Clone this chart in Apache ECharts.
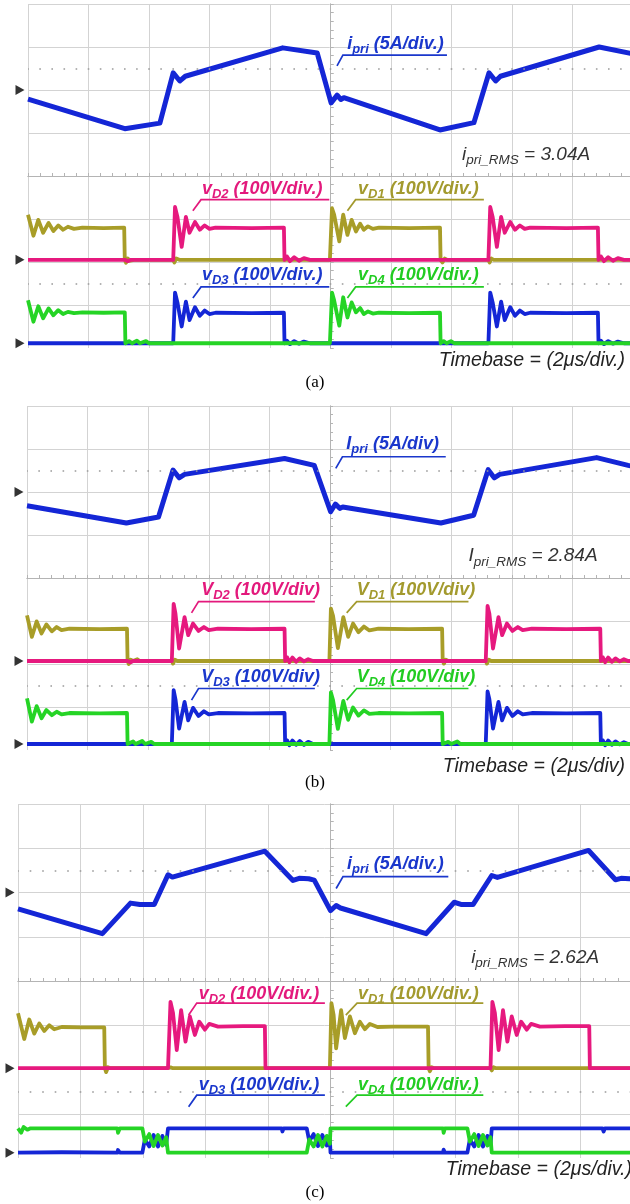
<!DOCTYPE html>
<html>
<head>
<meta charset="utf-8">
<script src="https://cdn.jsdelivr.net/npm/echarts@6/dist/echarts.min.js"></script>
<style>
  html, body { margin: 0; padding: 0; background: #fff; }
  #scope { width: 630px; height: 1204px; }
</style>
</head>
<body>
<div id="scope"></div>
<script>
// Vertical scales of the probes
const SCALE_I = 5;    // A/div
const SCALE_V = 100;  // V/div

// Channel reference levels (div): [i_pri, vD1/vD2, vD3/vD4]
const REF_A = [2.0, -1.95, -3.89];
const REF_B = [2.0, -1.93, -3.86];
const REF_C = [2.0, -1.97, -3.88];

// ---------- (a) ----------  time in µs from trigger, current in A, voltage in V
const A_IPRI = [[-10,-1.05],[-6.8,-4.5],[-5.64,-3.85],[-5.2,2.0],[-4.98,1.05],[-4.8,1.6],[-1.58,4.9],[-0.44,4.3],
  [0.02,-1.5],[0.22,-0.6],[0.34,-1.1],[0.44,-0.9],[3.62,-4.65],[4.74,-3.8],[5.24,2.0],[5.46,1.05],[5.62,1.6],[8.88,5.0],[10,4.2]];
const A_VD1 = [[-10,105],[-9.82,56],[-9.66,93],[-9.5,63],[-9.32,86],[-9.16,67],[-9.0,80],[-8.84,70],[-8.68,77],[-8.48,72],[-8.2,75],
  [-7.5,74],[-6.82,75],[-6.8,0],[-6.76,-7],[-6.7,3],[-6.62,-2],[-6.5,0],[-5.2,0],[-5.16,-6],[-5.1,3],[-5.0,0],
  [-0.02,0],[0.05,120],[0.12,105],[0.29,43],[0.42,105],[0.56,58],[0.70,93],[0.84,66],[0.98,84],[1.10,70],[1.24,78],[1.4,72],[1.6,75],
  [2.6,74],[3.62,75],[3.64,0],[3.7,-6],[3.78,3],[3.86,0],[5.22,0],[5.26,-6],[5.32,3],[5.4,0],[10,0]];
const A_VD2 = [[-10,0],[-6.8,0],[-6.76,4],[-6.7,-3],[-6.6,0],[-5.2,0],[-5.14,123],[-5.06,100],[-4.92,30],[-4.78,100],[-4.66,63],
  [-4.48,88],[-4.32,70],[-4.16,80],[-4.0,72],[-3.8,75],[-2.6,74],[-1.54,75],[-1.52,0],[-1.44,8],[-1.34,-3],[-1.2,6],[-1.04,-2],
  [-0.88,4],[-0.68,0],[5.22,0],[5.28,123],[5.36,100],[5.5,30],[5.64,100],[5.76,63],[5.94,88],[6.1,70],[6.26,80],[6.42,72],[6.6,75],
  [7.8,74],[8.84,75],[8.86,0],[8.94,8],[9.04,-3],[9.18,6],[9.34,-2],[9.5,4],[9.7,0],[10,0]];
const A_VD3 = [[-10,0],[-5.2,0],[-5.14,118],[-5.06,95],[-4.92,39],[-4.78,97],[-4.66,54],[-4.48,84],[-4.32,64],[-4.16,76],[-4.0,68],
  [-3.8,71],[-2.6,70],[-1.54,71],[-1.52,0],[-1.44,6],[-1.34,-2],[-1.2,5],[-1.04,-1],[-0.88,4],[-0.68,0],[5.22,0],[5.28,118],[5.36,95],
  [5.5,39],[5.64,97],[5.76,54],[5.94,84],[6.1,64],[6.26,76],[6.42,68],[6.6,71],[7.8,70],[8.84,71],[8.86,0],[8.94,6],[9.04,-2],[9.18,5],
  [9.34,-1],[9.5,4],[9.7,0],[10,0]];
const A_VD4 = [[-10,100],[-9.82,50],[-9.66,86],[-9.5,58],[-9.32,81],[-9.16,65],[-9.0,77],[-8.84,68],[-8.68,73],[-8.48,70],[-8.2,72],
  [-7.5,71],[-6.8,72],[-6.78,0],[-6.66,5],[-6.56,0],[-6.4,6],[-6.3,0],[-6.1,5],[-6.0,0],[-0.02,0],[0.05,118],[0.12,100],[0.29,41],
  [0.42,107],[0.56,60],[0.70,95],[0.84,72],[0.98,82],[1.10,68],[1.24,74],[1.4,69],[1.6,71],[2.6,70],[3.62,71],[3.64,0],[3.74,5],
  [3.84,0],[3.98,5],[4.1,0],[10,0]];

// ---------- (b) ----------
const B_IPRI = [[-10,-1.6],[-6.72,-3.6],[-5.66,-2.9],[-5.18,2.55],[-4.98,1.65],[-4.8,2.05],[-1.5,3.9],[-0.52,3.1],[0.02,-2.3],
  [0.18,-1.4],[0.32,-1.9],[0.42,-1.75],[3.66,-3.6],[4.74,-2.7],[5.22,2.6],[5.42,1.65],[5.6,2.05],[8.8,4.0],[9.84,3.1],[10,3.0]];
const B_VD1 = [[-10,106],[-9.84,56],[-9.68,92],[-9.52,64],[-9.36,85],[-9.18,69],[-9.02,79],[-8.86,72],[-8.6,75],[-7.6,74],[-6.7,75],
  [-6.68,0],[-6.64,-7],[-6.58,3],[-6.5,0],[-6.36,4],[-6.28,0],[-5.22,0],[-5.18,-6],[-5.12,3],[-5.04,0],[-0.02,0],[0.03,122],[0.1,105],
  [0.26,30],[0.44,102],[0.6,56],[0.76,87],[0.94,67],[1.12,80],[1.3,71],[1.6,75],[2.6,74],[3.7,75],[3.72,0],[3.76,-6],[3.82,3],[3.9,0],
  [5.14,0],[5.18,-6],[5.24,3],[5.32,0],[10,0]];
const B_VD2 = [[-10,0],[-6.68,0],[-6.64,4],[-6.58,-3],[-6.5,0],[-5.22,0],[-5.16,133],[-5.1,110],[-4.98,29],[-4.8,102],[-4.68,60],
  [-4.52,87],[-4.34,70],[-4.16,79],[-4.0,72],[-3.7,75],[-2.6,74],[-1.5,75],[-1.48,0],[-1.42,9],[-1.34,-3],[-1.24,8],[-1.12,-2],[-1.0,6],
  [-0.86,-1],[-0.72,4],[-0.56,0],[5.14,0],[5.2,128],[5.26,110],[5.38,29],[5.56,102],[5.68,60],[5.84,87],[6.02,70],[6.2,79],[6.36,72],
  [6.66,75],[7.8,74],[8.92,75],[8.94,0],[9.0,9],[9.08,-3],[9.18,8],[9.3,-2],[9.42,6],[9.56,-1],[9.7,4],[9.84,0],[10,0]];
const B_VD3 = [[-10,0],[-5.22,0],[-5.16,125],[-5.1,104],[-4.98,36],[-4.8,98],[-4.68,55],[-4.52,84],[-4.34,65],[-4.16,76],[-4.0,69],
  [-3.7,72],[-2.6,71],[-1.5,72],[-1.48,0],[-1.42,9],[-1.34,-3],[-1.24,8],[-1.12,-2],[-1.0,7],[-0.86,-2],[-0.72,5],[-0.56,0],[5.14,0],
  [5.2,122],[5.26,104],[5.38,36],[5.56,98],[5.68,55],[5.84,84],[6.02,65],[6.2,76],[6.36,69],[6.66,72],[7.8,71],[8.92,72],[8.94,0],
  [9.0,9],[9.08,-3],[9.18,8],[9.3,-2],[9.42,6],[9.56,-1],[9.7,4],[9.84,0],[10,0]];
const B_VD4 = [[-10,106],[-9.84,52],[-9.68,88],[-9.52,60],[-9.36,79],[-9.18,67],[-9.02,75],[-8.86,69],[-8.6,72],[-7.6,71],[-6.7,72],
  [-6.68,0],[-6.5,6],[-6.42,0],[-6.2,7],[-6.1,0],[-5.9,5],[-5.8,0],[-0.02,0],[0.03,120],[0.1,102],[0.26,35],[0.44,100],[0.6,56],
  [0.76,85],[0.94,66],[1.12,78],[1.3,70],[1.6,72],[2.6,71],[3.7,72],[3.72,0],[3.9,5],[4.0,0],[4.2,6],[4.3,0],[10,0]];

// ---------- (c) ----------
const C_IPRI = [[-10,-1.85],[-7.3,-4.65],[-6.4,-1.2],[-6.1,-1.36],[-5.64,-1.36],[-5.2,2.0],[-5.06,1.74],[-2.1,4.67],[-1.2,1.36],
  [-1.0,1.6],[-0.7,1.55],[-0.52,1.4],[0.0,-2.04],[0.18,-1.47],[0.32,-1.75],[3.06,-4.65],[3.96,-1.1],[4.2,-1.36],[4.56,-1.36],
  [5.16,1.92],[5.34,1.7],[8.26,4.75],[9.12,1.44],[9.3,1.6],[9.56,1.55],[10,1.5]];
const C_VD1 = [[-10,124],[-9.8,66],[-9.64,110],[-9.48,78],[-9.32,101],[-9.16,84],[-9.0,97],[-8.84,88],[-8.6,93],[-8.0,92],[-7.24,92],
  [-7.22,0],[-7.18,-9],[-7.12,2],[-7.04,0],[-5.22,0],[-5.18,-4],[-5.12,2],[-5.04,0],[-0.02,0],[0.03,147],[0.1,120],[0.18,45],
  [0.34,131],[0.46,68],[0.62,117],[0.78,79],[0.94,105],[1.1,88],[1.26,100],[1.5,93],[2.0,94],[3.12,94],[3.14,0],[3.18,-7],[3.24,2],
  [3.32,0],[5.12,0],[5.16,-5],[5.22,2],[5.3,0],[10,0]];
const C_VD2 = [[-10,0],[-7.22,0],[-7.18,3],[-7.1,0],[-5.2,0],[-5.12,150],[-5.04,125],[-4.92,41],[-4.78,131],[-4.64,60],[-4.5,117],
  [-4.34,75],[-4.2,105],[-4.02,87],[-3.88,100],[-3.6,94],[-2.8,95],[-2.1,95],[-2.08,0],[-2.02,3],[-1.94,0],[5.12,0],[5.18,150],
  [5.26,125],[5.38,41],[5.52,131],[5.66,60],[5.8,117],[5.96,75],[6.1,105],[6.28,87],[6.42,100],[6.7,94],[7.5,95],[8.28,95],[8.3,0],
  [8.36,3],[8.44,0],[10,0]];
const C_VD3 = [[-10,0],[-8.6,1],[-6.82,0],[-6.8,6],[-6.74,0],[-6.02,0],[-5.94,30],[-5.8,14],[-5.66,40],[-5.52,14],[-5.38,38],
  [-5.26,18],[-5.2,55],[-3.0,55],[-1.56,55],[-1.54,48],[-1.5,55],[-0.76,55],[-0.68,26],[-0.54,42],[-0.4,15],[-0.26,40],[-0.12,16],
  [-0.02,30],[0.0,0],[3.6,0],[3.62,7],[3.66,0],[4.38,0],[4.46,30],[4.6,14],[4.74,40],[4.88,14],[5.02,38],[5.12,18],[5.16,55],
  [8.7,55],[8.74,48],[8.78,55],[10,55]];
const C_VD4 = [[-10,55],[-9.9,45],[-9.82,58],[-9.7,52],[-9.6,55],[-6.82,55],[-6.8,45],[-6.74,55],[-6.02,55],[-5.94,25],[-5.8,42],
  [-5.66,15],[-5.52,40],[-5.38,16],[-5.26,35],[-5.2,0],[-0.76,0],[-0.68,30],[-0.54,14],[-0.4,40],[-0.26,14],[-0.12,38],[-0.02,20],
  [0.0,55],[3.6,55],[3.62,45],[3.66,55],[4.38,55],[4.46,25],[4.6,42],[4.74,15],[4.88,40],[5.02,16],[5.12,35],[5.16,0],[10,0]];

// Text shown on each screen
const CAPTIONS = ['(a)', '(b)', '(c)'];
const TIMEBASE = ['Timebase = (2\u03bcs/div.)', 'Timebase = (2\u03bcs/div)', 'Timebase = (2\u03bcs/div.)'];
const RMS_LABELS = [['i', 'pri_RMS', ' = 3.04A'], ['I', 'pri_RMS', ' = 2.84A'], ['i', 'pri_RMS', ' = 2.62A']];
const I_LABELS = [['i', 'pri', ' (5A/div.)'], ['I', 'pri', ' (5A/div)'], ['i', 'pri', ' (5A/div.)']];
const V_LABELS = [
  { D1: ['v', 'D1', ' (100V/div.)'], D2: ['v', 'D2', ' (100V/div.)'], D3: ['v', 'D3', ' (100V/div.)'], D4: ['v', 'D4', ' (100V/div.)'] },
  { D1: ['V', 'D1', ' (100V/div)'], D2: ['V', 'D2', ' (100V/div)'], D3: ['V', 'D3', ' (100V/div)'], D4: ['V', 'D4', ' (100V/div)'] },
  { D1: ['v', 'D1', ' (100V/div.)'], D2: ['v', 'D2', ' (100V/div.)'], D3: ['v', 'D3', ' (100V/div.)'], D4: ['v', 'D4', ' (100V/div.)'] }
];

// ---------- styling ----------
const COL = { ipri: '#1426d6', d1: '#a89d28', d2: '#e6197e', d3: '#1426d6', d4: '#25d425' };
const LABEL_COL = { ipri: '#1a37cc', d1: '#a39a2e', d2: '#e3197c', d3: '#1a37cc', d4: '#22cc22' };
const GRID_C = '#d3d3d3';
const AXIS_C = '#b4b4b4';
const FONT = '"Liberation Sans", Arial, Helvetica, sans-serif';

const PANELS = [
  { box: { left: 28, top: 4, width: 605, height: 344 }, ref: REF_A, ipri: A_IPRI, d1: A_VD1, d2: A_VD2, d3: A_VD3, d4: A_VD4,
    capY: 383, tbY: 361, tbX: 625,
    iLab: { t: [0.55, 3.07], line: [[0.215, 2.56], [0.41, 2.81], [3.85, 2.81]] }, rms: [4.35, 0.49],
    vLab: { D2: { t: [-4.25, -0.30], line: [[-4.55, -0.81], [-4.28, -0.55], [-0.04, -0.55]] },
            D1: { t: [0.91, -0.30], line: [[0.56, -0.81], [0.83, -0.55], [5.07, -0.55]] },
            D3: { t: [-4.25, -2.30], line: [[-4.55, -2.84], [-4.28, -2.58], [-0.04, -2.58]] },
            D4: { t: [0.91, -2.30], line: [[0.56, -2.84], [0.83, -2.58], [5.07, -2.58]] } } },
  { box: { left: 27, top: 406, width: 606, height: 344 }, ref: REF_B, ipri: B_IPRI, d1: B_VD1, d2: B_VD2, d3: B_VD3, d4: B_VD4,
    capY: 783, tbY: 767, tbX: 625,
    iLab: { t: [0.54, 3.12], line: [[0.19, 2.55], [0.41, 2.82], [3.82, 2.82]] }, rms: [4.57, 0.51],
    vLab: { D2: { t: [-4.25, -0.28], line: [[-4.57, -0.81], [-4.34, -0.55], [-0.50, -0.55]] },
            D1: { t: [0.88, -0.28], line: [[0.55, -0.81], [0.88, -0.55], [4.57, -0.55]] },
            D3: { t: [-4.25, -2.30], line: [[-4.57, -2.84], [-4.34, -2.57], [-0.50, -2.57]] },
            D4: { t: [0.88, -2.30], line: [[0.55, -2.84], [0.88, -2.57], [4.57, -2.57]] } } },
  { box: { left: 18, top: 804, width: 625, height: 354 }, ref: REF_C, ipri: C_IPRI, d1: C_VD1, d2: C_VD2, d3: C_VD3, d4: C_VD4,
    capY: 1193, tbY: 1170, tbX: 632,
    iLab: { t: [0.53, 2.64], line: [[0.18, 2.09], [0.40, 2.36], [3.77, 2.36]] }, rms: [4.50, 0.52],
    vLab: { D2: { t: [-4.22, -0.29], line: [[-4.54, -0.77], [-4.28, -0.50], [-0.18, -0.50]] },
            D1: { t: [0.88, -0.29], line: [[0.49, -0.77], [0.85, -0.50], [4.89, -0.50]] },
            D3: { t: [-4.22, -2.35], line: [[-4.54, -2.84], [-4.28, -2.58], [-0.18, -2.58]] },
            D4: { t: [0.88, -2.35], line: [[0.49, -2.84], [0.85, -2.58], [4.89, -2.58]] } } }
];

const chart = echarts.init(document.getElementById('scope'), null, { renderer: 'canvas', width: 630, height: 1204 });

const grids = [], xAxes = [], yAxes = [], series = [];
const X_SPLIT = new Array(11).fill(GRID_C);
const Y_SPLIT = ['rgba(0,0,0,0)'].concat(new Array(8).fill(GRID_C));

PANELS.forEach((p, g) => {
  // the screen runs past the right edge of the page, so keep the box as given
  grids.push(Object.assign({ show: false, containLabel: false, outerBoundsMode: 'none' }, p.box));
  const sub = p.box.width / 50; // pixel size of a 0.2 div subdivision
  [true, false].forEach((inside, k) => {
    xAxes.push({
      gridIndex: g, type: 'value', min: -10, max: 10, interval: 2,
      axisLine: { show: true, onZero: true, lineStyle: { color: AXIS_C, width: 1 } },
      axisTick: { show: true, inside: inside, length: 3, lineStyle: { color: AXIS_C } },
      minorTick: { show: true, splitNumber: 5, length: 3, lineStyle: { color: AXIS_C } },
      axisLabel: { show: false },
      splitLine: { show: k === 0, lineStyle: { color: X_SPLIT, width: 1 } }
    });
    yAxes.push({
      gridIndex: g, type: 'value', min: -4, max: 4, interval: 1,
      axisLine: { show: true, onZero: true, lineStyle: { color: AXIS_C, width: 1 } },
      axisTick: { show: true, inside: inside, length: 3, lineStyle: { color: AXIS_C } },
      minorTick: { show: true, splitNumber: 5, length: 3, lineStyle: { color: AXIS_C } },
      axisLabel: { show: false },
      splitLine: { show: k === 0, lineStyle: { color: Y_SPLIT, width: 1 } }
    });
  });
  const xi = 2 * g, yi = 2 * g;
  const toI = arr => arr.map(([t, a]) => [t, p.ref[0] + a / SCALE_I]);
  const toV = (arr, ref) => arr.map(([t, v]) => [t, ref + v / SCALE_V]);
  const trace = (name, data, color, width, extra) => Object.assign({
    name, type: 'line', xAxisIndex: xi, yAxisIndex: yi, data, showSymbol: false, symbol: 'none',
    lineStyle: { color, width, join: 'round' }, itemStyle: { color }, animation: false, silent: true, z: 3
  }, extra || {});

  series.push(trace('ipri', toI(p.ipri), COL.ipri, 5, {
    markLine: {
      silent: true, symbol: ['none', 'none'], label: { show: false }, animation: false,
      lineStyle: { color: '#9a9a9a', width: 1.6, type: [1.6, sub - 1.6], dashOffset: 0.8 },
      data: [{ yAxis: 2.5 }, { yAxis: -2.5 }]
    }
  }));
  series.push(trace('vD1', toV(p.d1, p.ref[1]), COL.d1, 3.8));
  series.push(trace('vD2', toV(p.d2, p.ref[1]), COL.d2, 3.8));
  series.push(trace('vD3', toV(p.d3, p.ref[2]), COL.d3, 3.8));
  series.push(trace('vD4', toV(p.d4, p.ref[2]), COL.d4, 3.8));
  // channel ground markers on the left edge
  series.push({
    type: 'scatter', xAxisIndex: xi, yAxisIndex: yi, clip: false, silent: true, animation: false,
    data: p.ref.map(r => [-10, r]), symbol: 'triangle', symbolSize: [10, 9], symbolRotate: -90,
    symbolOffset: [-8, 0], itemStyle: { color: '#000' }, z: 5
  });
});

chart.setOption({
  animation: false, backgroundColor: '#ffffff',
  grid: grids, xAxis: xAxes, yAxis: yAxes, series
});

// ---------- annotations ----------
const measureCtx = document.createElement('canvas').getContext('2d');
function textWidth(txt, style, weight, size) {
  measureCtx.font = `${style} ${weight} ${size}px ${FONT}`;
  return measureCtx.measureText(txt).width;
}
// text with a subscript run: parts = [main, subscript, main]
function subText(parts, x, y, color, weight, size, subSize) {
  const els = [];
  let cx = x;
  parts.forEach((txt, k) => {
    const isSub = k === 1;
    const fs = isSub ? subSize : size;
    els.push({
      type: 'text', x: cx, y: y + (isSub ? size * 0.3 : 0), z: 50, silent: true,
      style: { text: txt, fill: color, fontStyle: 'italic', fontWeight: weight, fontSize: fs, fontFamily: FONT,
               align: 'left', verticalAlign: 'middle' }
    });
    cx += textWidth(txt, 'italic', weight, fs);
  });
  return els;
}

const elements = [];
PANELS.forEach((p, g) => {
  const px = pt => chart.convertToPixel({ xAxisIndex: 2 * g, yAxisIndex: 2 * g }, pt);
  const callout = (lab, parts, color) => {
    elements.push({
      type: 'polyline', z: 50, silent: true,
      shape: { points: lab.line.map(px) },
      style: { stroke: color, lineWidth: 1.7, fill: null }
    });
    const t = px(lab.t);
    subText(parts, t[0], t[1], color, 'bold', 18, 13).forEach(e => elements.push(e));
  };
  callout(p.iLab, I_LABELS[g], LABEL_COL.ipri);
  callout(p.vLab.D2, V_LABELS[g].D2, LABEL_COL.d2);
  callout(p.vLab.D1, V_LABELS[g].D1, LABEL_COL.d1);
  callout(p.vLab.D3, V_LABELS[g].D3, LABEL_COL.d3);
  callout(p.vLab.D4, V_LABELS[g].D4, LABEL_COL.d4);

  const r = px(p.rms);
  subText(RMS_LABELS[g], r[0], r[1], '#333333', 'normal', 19, 13.5).forEach(e => elements.push(e));

  elements.push({
    type: 'text', x: p.tbX, y: p.tbY, z: 50, silent: true,
    style: { text: TIMEBASE[g], fill: '#222222', fontStyle: 'italic', fontSize: 19.5, fontFamily: FONT,
             align: 'right', verticalAlign: 'middle' }
  });
  elements.push({
    type: 'text', x: 315, y: p.capY, z: 50, silent: true,
    style: { text: CAPTIONS[g], fill: '#000000', fontSize: 17, fontFamily: '"Liberation Serif", "Times New Roman", serif',
             align: 'center', verticalAlign: 'middle' }
  });
});

chart.setOption({ graphic: { elements } });
</script>
</body>
</html>
